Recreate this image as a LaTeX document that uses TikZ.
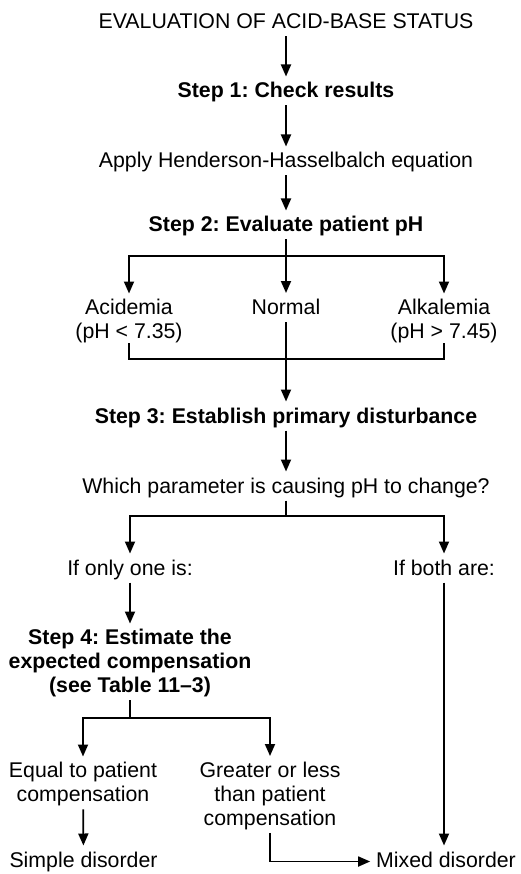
\documentclass[tikz,border=0pt]{standalone}
\usepackage{fontspec}
\setmainfont{Liberation Sans}
\usetikzlibrary{arrows.meta}
\frenchspacing
\tikzset{
    every node/.style={inner sep=0pt, outer sep=0pt, anchor=north, align=center,
    	font=\fontsize{21.3}{24}\selectfont}
}
\tikzset{
    oneline/.style={text height=15.5pt, text depth=4.5pt},
    stepbox/.style={font=\fontsize{21.3}{24}\selectfont\bfseries}
}
\tikzset{
    link/.style={line width=1.8pt},
    away/.style={shorten <=3pt},
    arrow/.style={link, -{Triangle[length=12pt,width=10pt]}, shorten >=6pt}
}

\begin{document}
\begin{tikzpicture}[x=1pt, y=-1pt]
  \useasboundingbox (0,0) rectangle (520,874);

  \node (title) [oneline] at (286, 13.5) {EVALUATION OF ACID-BASE STATUS};
  \node (s1) [oneline, stepbox] at (286, 82.5) {Step 1: Check results};
  \node (hh) [oneline] at (286, 152.5) {Apply Henderson-Hasselbalch equation};
  \node (s2) [oneline, stepbox] at (286, 216.5) {Step 2: Evaluate patient pH};

  \node (acid) at (129, 299.5) {Acidemia\\(pH < 7.35)};
  \node (normal) [oneline] at (286, 299) {Normal};
  \node (alk) at (444, 299.5) {Alkalemia\\(pH > 7.45)};

  \node (s3) [oneline, stepbox] at (286, 407.5) {Step 3: Establish primary disturbance};
  \node (which) [oneline] at (286, 477.5) {Which parameter is causing pH to change?};

  \node (only) [oneline] at (130, 559.5) {If only one is:};
  \node (both) [oneline] at (444, 559.5) {If both are:};

  \node (s4) [stepbox] at (130, 629.5) {Step 4: Estimate the\\expected compensation\\(see Table 11–3)};

  \node (equal) at (83, 762.5) {Equal to patient\\compensation};
  \node (greater) at (270, 762) {Greater or less\\than patient\\compensation};

  \node (simple) [oneline] at (83.5, 851.5) {Simple disorder};
  \node (mixed) [oneline] at (446, 851.5) {Mixed disorder};

  \coordinate (br1) at (286, 256);
  \coordinate (j1) at (286, 359);
  \coordinate (br2) at (286, 516);
  \coordinate (br3) at (130, 718);

  \draw [arrow, away] (title) -- (s1);
  \draw [arrow, away] (s1) -- (hh);
  \draw [arrow, away] (hh) -- (s2);

  \draw [arrow, away] (s2) -- (br1) -| (acid);
  \draw [arrow] (br1) -| (alk);
  \draw [arrow] (br1) -- (normal);

  \draw [link] (acid) |- (j1) -| (alk);
  \draw [arrow, away] (normal) -- (s3);
  \draw [arrow, away] (s3) -- (which);

  \draw [link, away] (which) -- (br2);
  \draw [arrow] (br2) -| (only);
  \draw [arrow] (br2) -| (both);

  \draw [arrow, away] (only) -- (s4);
  \draw [link, away] (s4) -- (br3);
  \draw [arrow] (br3) -| (equal);
  \draw [arrow] (br3) -| (greater);

  \draw [arrow, away] (equal) -- (simple);
  \draw [arrow, away] (both) -- (both |- mixed.north);
  \draw [arrow, away] (greater) |- (mixed);
\end{tikzpicture}
\end{document}
